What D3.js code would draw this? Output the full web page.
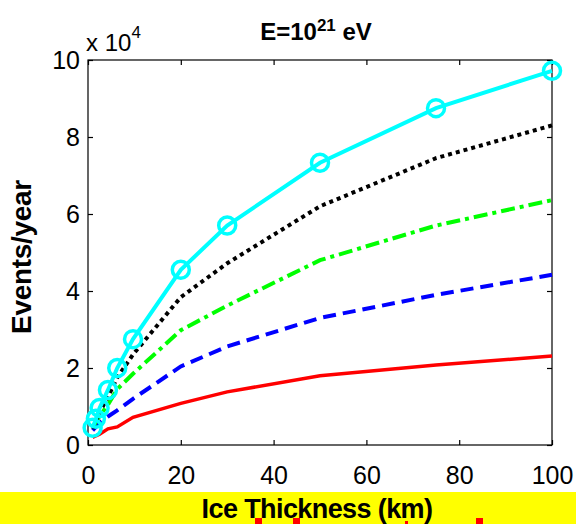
<!DOCTYPE html>
<html>
<head>
<meta charset="utf-8">
<script src="https://cdn.jsdelivr.net/npm/d3@7"></script>
<style>
  html, body { margin: 0; padding: 0; background: #fff; }
  svg { display: block; font-family: "Liberation Sans", Arial, Helvetica, sans-serif; }
</style>
</head>
<body>
<svg id="chart" width="576" height="524"></svg>
<script>
// ice thickness (km) sampled for every curve
const thickness = [1, 1.7, 2.5, 4.3, 6.3, 9.7, 20, 30, 50, 75, 100];
// events / year, in units of 1e4
const cyanVals  = [0.45, 0.68, 0.96, 1.43, 2.0, 2.75, 4.55, 5.7, 7.33, 8.75, 9.72];
const blackVals = [0.42, 0.6, 0.85, 1.25, 1.75, 2.35, 3.84, 4.72, 6.2, 7.45, 8.3];
const greenVals = [0.45, 0.6, 0.75, 1.05, 1.45, 1.85, 2.98, 3.62, 4.8, 5.7, 6.36];
const blueVals  = [0.38, 0.47, 0.58, 0.74, 0.9, 1.2, 2.04, 2.56, 3.3, 3.9, 4.42];
const redVals   = [0.2, 0.24, 0.28, 0.42, 0.47, 0.72, 1.08, 1.38, 1.8, 2.08, 2.31];
const xTicks = [0, 20, 40, 60, 80, 100];
const yTicks = [0, 2, 4, 6, 8, 10];

const svg = d3.select("#chart");
const mLeft = 88, mRight = 552, mTop = 60, mBottom = 445;

const x = d3.scaleLinear().domain([0, 100]).range([mLeft, mRight]);
const y = d3.scaleLinear().domain([0, 10]).range([mBottom, mTop]);

// yellow band behind x label
svg.append("rect").attr("x", 0).attr("y", 492).attr("width", 576).attr("height", 32).attr("fill", "#ffff00");
// red bits peeking in at the bottom edge
[[255, 518, 7, 6], [293, 518, 7, 6], [405, 521, 3, 3], [476, 518, 7, 6]].forEach(r => {
  svg.append("rect").attr("x", r[0]).attr("y", r[1]).attr("width", r[2]).attr("height", r[3]).attr("fill", "#ff0000");
});

// axes box with inward ticks
const g = svg.append("g");
g.append("rect").attr("x", mLeft).attr("y", mTop).attr("width", mRight - mLeft).attr("height", mBottom - mTop)
  .attr("fill", "none").attr("stroke", "#000").attr("stroke-width", 1.2);

const axB = d3.axisBottom(x).tickValues(xTicks).tickSizeInner(-5).tickSizeOuter(0).tickPadding(21);
const axT = d3.axisTop(x).tickValues(xTicks).tickSizeInner(-5).tickSizeOuter(0).tickFormat("");
const axL = d3.axisLeft(y).tickValues(yTicks).tickSizeInner(-5).tickSizeOuter(0).tickPadding(8);
const axR = d3.axisRight(y).tickValues(yTicks).tickSizeInner(-5).tickSizeOuter(0).tickFormat("");

function styleAxis(sel) {
  sel.attr("font-family", null).attr("font-size", null);
  sel.select(".domain").remove();
  sel.selectAll("line").attr("stroke", "#000").attr("stroke-width", 1.2);
  sel.selectAll("text").attr("fill", "#000").attr("font-size", 25);
}
g.append("g").attr("transform", `translate(0,${mBottom})`).call(axB).call(styleAxis);
g.append("g").attr("transform", `translate(0,${mTop})`).call(axT).call(styleAxis);
g.append("g").attr("transform", `translate(${mLeft},0)`).call(axL).call(styleAxis);
g.append("g").attr("transform", `translate(${mRight},0)`).call(axR).call(styleAxis);

// curves
const series = [
  { vals: redVals,   color: "#ff0000", width: 3.5, dash: null },
  { vals: blueVals,  color: "#0000ff", width: 4,   dash: "13,7" },
  { vals: greenVals, color: "#00ff00", width: 4,   dash: "14,5,4,5" },
  { vals: blackVals, color: "#000000", width: 4,   dash: "4,4" },
  { vals: cyanVals,  color: "#00ffff", width: 4,   dash: null }
];
const line = d3.line().x(d => x(d[0])).y(d => y(d[1]));
series.forEach(s => {
  const pts = thickness.map((t, i) => [t, s.vals[i]]);
  svg.append("path").datum(pts).attr("d", line)
    .attr("fill", "none").attr("stroke", s.color).attr("stroke-width", s.width)
    .attr("stroke-dasharray", s.dash);
});

// cyan circle markers
svg.append("g").selectAll("circle")
  .data(thickness.map((t, i) => [t, cyanVals[i]]))
  .join("circle")
  .attr("cx", d => x(d[0])).attr("cy", d => y(d[1])).attr("r", 8.5)
  .attr("fill", "none").attr("stroke", "#00ffff").attr("stroke-width", 3.5);

// exponent label
const ex = svg.append("text").attr("x", 86).attr("y", 51).attr("font-size", 24);
ex.append("tspan").text("x 10");
ex.append("tspan").attr("font-size", 17).attr("dy", -13).text("4");

// title
const tt = svg.append("text").attr("x", 316).attr("y", 40).attr("text-anchor", "middle")
  .attr("font-size", 24).attr("font-weight", "bold");
tt.append("tspan").text("E=10");
tt.append("tspan").attr("font-size", 17).attr("dy", -9).text("21");
tt.append("tspan").attr("dy", 9).text(" eV");

// axis labels
svg.append("text").attr("transform", "translate(31,257) rotate(-90)").attr("text-anchor", "middle")
  .attr("font-size", 28).attr("font-weight", "bold").attr("letter-spacing", -0.3).text("Events/year");
svg.append("text").attr("x", 317).attr("y", 518).attr("text-anchor", "middle")
  .attr("font-size", 27).attr("font-weight", "bold").attr("letter-spacing", -0.6).text("Ice Thickness (km)");
</script>
</body>
</html>
